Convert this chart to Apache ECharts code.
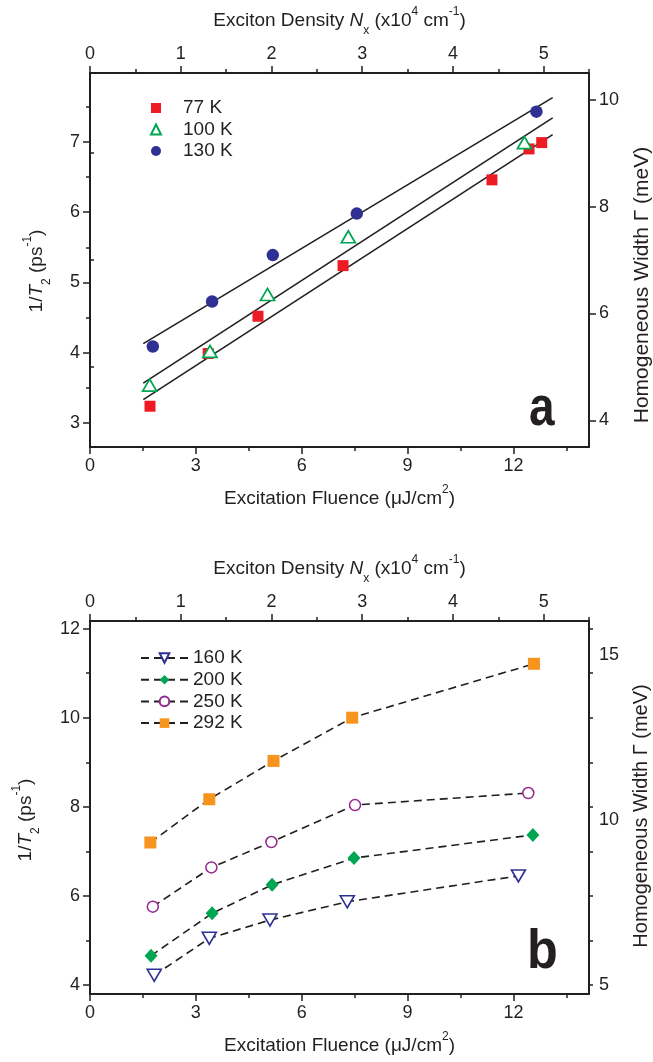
<!DOCTYPE html>
<html><head><meta charset="utf-8">
<script src="https://cdn.jsdelivr.net/npm/echarts@6/dist/echarts.min.js"></script>
<style>html,body{margin:0;padding:0;background:#fff}#c{width:653px;height:1062px}</style>
</head><body><div id="c"></div>
<script>
// ---- tick values ----
const fluenceMajor = [0, 3, 6, 9, 12];
const fluenceMinor = [1.5, 4.5, 7.5, 10.5, 13.5];
const densityMajor = [0, 1, 2, 3, 4, 5];
const densityMinor = [0.5, 1.5, 2.5, 3.5, 4.5, 5.5];
const rateMajorA = [3, 4, 5, 6, 7];
const rateMinorA = [3.5, 4.5, 5.5, 6.5, 7.5];
const widthMajorA = [4, 6, 8, 10];
const widthMinorA = [5, 7, 9];
const rateMajorB = [4, 6, 8, 10, 12];
const rateMinorB = [5, 7, 9, 11];
const widthLabelsB = [5, 10, 15];

// ---- panel a data: [fluence, 1/T2] ----
const namesA = ['77 K', '100 K', '130 K'];
const a77 = [[1.70, 3.24], [3.35, 3.99], [4.76, 4.52], [7.17, 5.24], [11.39, 6.46], [12.44, 6.90], [12.80, 6.99]];
const a100 = [[1.69, 3.54], [3.40, 4.02], [5.03, 4.83], [7.32, 5.65], [12.31, 6.99]];
const a130 = [[1.78, 4.09], [3.46, 4.73], [5.18, 5.39], [7.56, 5.98], [12.65, 7.43]];
// linear fits (end points)
const fit77 = [[1.51, 3.333], [13.11, 7.104]];
const fit100 = [[1.51, 3.569], [13.11, 7.341]];
const fit130 = [[1.51, 4.13], [13.11, 7.63]];

// ---- panel b data ----
const namesB = ['160 K', '200 K', '250 K', '292 K'];
const b160 = [[1.82, 4.22], [3.38, 5.05], [5.10, 5.46], [7.29, 5.87], [12.14, 6.45]];
const b200 = [[1.73, 4.66], [3.46, 5.61], [5.16, 6.25], [7.48, 6.85], [12.55, 7.37]];
const b250 = [[1.78, 5.76], [3.44, 6.64], [5.14, 7.21], [7.51, 8.04], [12.42, 8.31]];
const b292 = [[1.71, 7.20], [3.38, 8.17], [5.20, 9.03], [7.43, 10.00], [12.58, 11.21]];

const T = '#231f20';
const FONT = '"Liberation Sans", Arial, sans-serif';

const richName = {
  it: { fontStyle: 'italic', fontSize: 19, fontFamily: FONT, color: T, lineHeight: 24 },
  sub: { fontSize: 12, fontFamily: FONT, color: T, verticalAlign: 'bottom', lineHeight: 12, padding: [0, 0, -4, 0] },
  sup: { fontSize: 12, fontFamily: FONT, color: T, verticalAlign: 'top', lineHeight: 12, padding: [-3, 0, 0, 0] }
};
function nameStyle(extra) {
  return Object.assign({ fontSize: 19, fontFamily: FONT, color: T, lineHeight: 24, rich: richName }, extra || {});
}

function mainAxis(o) {
  return Object.assign({
    type: 'value',
    axisLine: { show: true, onZero: false, lineStyle: { color: T, width: 2 } },
    axisTick: { show: true, inside: false, length: 7, lineStyle: { color: T, width: 1.5 }, customValues: o.ticks },
    axisLabel: { show: true, margin: 10, fontSize: 18, fontFamily: FONT, color: T, customValues: o.ticks },
    splitLine: { show: false },
    nameLocation: 'middle'
  }, o.opts);
}
function minorAxis(o) {
  return Object.assign({
    type: 'value',
    axisLine: { show: false },
    axisTick: { show: true, inside: false, length: 4, lineStyle: { color: T, width: 1.5 }, customValues: o.ticks },
    axisLabel: { show: false },
    splitLine: { show: false }
  }, o.opts);
}

const xAxes = [
  // panel a
  mainAxis({ ticks: fluenceMajor, opts: { gridIndex: 0, position: 'bottom', min: 0, max: 14.14,
    name: 'Excitation Fluence (\u03bcJ/cm{sup|2})', nameGap: 40, nameTextStyle: nameStyle() } }),
  minorAxis({ ticks: fluenceMinor, opts: { gridIndex: 0, position: 'bottom', min: 0, max: 14.14 } }),
  mainAxis({ ticks: densityMajor, opts: { gridIndex: 0, position: 'top', min: 0, max: 5.5,
    name: 'Exciton Density {it|N}{sub|x} (x10{sup|4} cm{sup|-1})', nameGap: 40, nameTextStyle: nameStyle() } }),
  minorAxis({ ticks: densityMinor, opts: { gridIndex: 0, position: 'top', min: 0, max: 5.5 } }),
  // panel b
  mainAxis({ ticks: fluenceMajor, opts: { gridIndex: 1, position: 'bottom', min: 0, max: 14.14,
    name: 'Excitation Fluence (\u03bcJ/cm{sup|2})', nameGap: 40, nameTextStyle: nameStyle() } }),
  minorAxis({ ticks: fluenceMinor, opts: { gridIndex: 1, position: 'bottom', min: 0, max: 14.14 } }),
  mainAxis({ ticks: densityMajor, opts: { gridIndex: 1, position: 'top', min: 0, max: 5.5,
    name: 'Exciton Density {it|N}{sub|x} (x10{sup|4} cm{sup|-1})', nameGap: 40, nameTextStyle: nameStyle() } }),
  minorAxis({ ticks: densityMinor, opts: { gridIndex: 1, position: 'top', min: 0, max: 5.5 } })
];

const yAxes = [
  // panel a
  mainAxis({ ticks: rateMajorA, opts: { gridIndex: 0, position: 'left', min: 2.66, max: 7.98,
    name: '1/{it|T}{sub|2} (ps{sup|-1})', nameGap: 41, nameRotate: 90, nameTextStyle: nameStyle({ padding: [0, 22, 0, 0] }) } }),
  minorAxis({ ticks: rateMinorA, opts: { gridIndex: 0, position: 'left', min: 2.66, max: 7.98 } }),
  mainAxis({ ticks: widthMajorA, opts: { gridIndex: 0, position: 'right', min: 3.50, max: 10.50,
    name: 'Homogeneous Width \u0393 (meV)', nameGap: 36, nameRotate: 90, nameTextStyle: nameStyle({ fontSize: 21, padding: [0, 50, 0, 0] }) } }),
  minorAxis({ ticks: widthMinorA, opts: { gridIndex: 0, position: 'right', min: 3.50, max: 10.50 } }),
  // panel b
  mainAxis({ ticks: rateMajorB, opts: { gridIndex: 1, position: 'left', min: 3.80, max: 12.17,
    name: '1/{it|T}{sub|2} (ps{sup|-1})', nameGap: 52, nameRotate: 90, nameTextStyle: nameStyle({ padding: [0, 25, 0, 0] }) } }),
  minorAxis({ ticks: rateMinorB, opts: { gridIndex: 1, position: 'left', min: 3.80, max: 12.17 } }),
  // right mirror ticks of panel b
  minorAxis({ ticks: rateMajorB.concat(rateMinorB), opts: { gridIndex: 1, position: 'right', min: 3.80, max: 12.17,
    axisLine: { show: true, onZero: false, lineStyle: { color: T, width: 2 } } } }),
  // right Gamma labels of panel b
  {
    type: 'value', gridIndex: 1, position: 'right', min: 4.74, max: 16.04,
    axisLine: { show: false }, axisTick: { show: false }, splitLine: { show: false },
    axisLabel: { show: true, margin: 10, fontSize: 18, fontFamily: FONT, color: T, customValues: widthLabelsB },
    name: 'Homogeneous Width \u0393 (meV)', nameLocation: 'middle', nameGap: 40, nameRotate: 90,
    nameTextStyle: nameStyle({ fontSize: 20, padding: [0, 17, 0, 0] })
  }
];

const dashed = { color: T, width: 1.6, type: [8, 5] };
const fitStyle = { color: T, width: 1.6 };

const series = [
  { name: 'fit77', type: 'line', xAxisIndex: 0, yAxisIndex: 0, data: fit77, symbol: 'none', lineStyle: fitStyle, silent: true, z: 1 },
  { name: 'fit100', type: 'line', xAxisIndex: 0, yAxisIndex: 0, data: fit100, symbol: 'none', lineStyle: fitStyle, silent: true, z: 1 },
  { name: 'fit130', type: 'line', xAxisIndex: 0, yAxisIndex: 0, data: fit130, symbol: 'none', lineStyle: fitStyle, silent: true, z: 1 },
  { name: namesA[0], type: 'scatter', xAxisIndex: 0, yAxisIndex: 0, data: a77, symbol: 'rect', symbolSize: 11,
    itemStyle: { color: '#ED1C24', opacity: 1 }, z: 3 },
  { name: namesA[1], type: 'scatter', xAxisIndex: 0, yAxisIndex: 0, data: a100, symbol: 'triangle', symbolSize: [14, 12],
    itemStyle: { color: '#ffffff', borderColor: '#00A651', borderWidth: 1.7, opacity: 1 }, z: 4 },
  { name: namesA[2], type: 'scatter', xAxisIndex: 0, yAxisIndex: 0, data: a130, symbol: 'circle', symbolSize: 12.5,
    itemStyle: { color: '#2E3192', opacity: 1 }, z: 3 },

  { name: namesB[0], type: 'line', xAxisIndex: 4, yAxisIndex: 4, data: b160, symbol: 'triangle', symbolRotate: 180, symbolSize: [14, 12],
    showAllSymbol: true, lineStyle: dashed, itemStyle: { color: '#ffffff', borderColor: '#2E3192', borderWidth: 1.6 }, z: 3 },
  { name: namesB[1], type: 'line', xAxisIndex: 4, yAxisIndex: 4, data: b200, symbol: 'diamond', symbolSize: [13, 14],
    showAllSymbol: true, lineStyle: dashed, itemStyle: { color: '#00A651' }, z: 3 },
  { name: namesB[2], type: 'line', xAxisIndex: 4, yAxisIndex: 4, data: b250, symbol: 'circle', symbolSize: 11,
    showAllSymbol: true, lineStyle: dashed, itemStyle: { color: '#ffffff', borderColor: '#92278F', borderWidth: 1.5 }, z: 3 },
  { name: namesB[3], type: 'line', xAxisIndex: 4, yAxisIndex: 4, data: b292, symbol: 'rect', symbolSize: 12,
    showAllSymbol: true, lineStyle: dashed, itemStyle: { color: '#F7941D' }, z: 3 }
];

const chart = echarts.init(document.getElementById('c'), null, { renderer: 'canvas' });
chart.setOption({
  animation: false,
  backgroundColor: '#ffffff',
  grid: [
    { left: 90, top: 73, width: 499, height: 374, containLabel: false, outerBoundsMode: 'none' },
    { left: 90, top: 621, width: 499, height: 373, containLabel: false, outerBoundsMode: 'none' }
  ],
  xAxis: xAxes,
  yAxis: yAxes,
  legend: [
    { data: namesA, orient: 'vertical', left: 150, top: 98, padding: 0, itemWidth: 10, itemHeight: 10, itemGap: 1.5,
      textStyle: { fontSize: 19, fontFamily: FONT, color: T, lineHeight: 20, padding: [0, 0, 0, 17] }, selectedMode: false },
    { data: namesB, orient: 'vertical', left: 140, top: 648, padding: 0, itemWidth: 47, itemHeight: 12, itemGap: 1.7,
      textStyle: { fontSize: 19, fontFamily: FONT, color: T, lineHeight: 20 }, selectedMode: false }
  ],
  graphic: [
    { type: 'text', left: 529, top: 382, scaleX: 0.82, style: { text: 'a', font: 'bold 56px ' + FONT, fill: T } },
    { type: 'text', left: 527, top: 925, scaleX: 0.9, style: { text: 'b', font: 'bold 56px ' + FONT, fill: T } }
  ],
  series: series
});
</script>
</body></html>
